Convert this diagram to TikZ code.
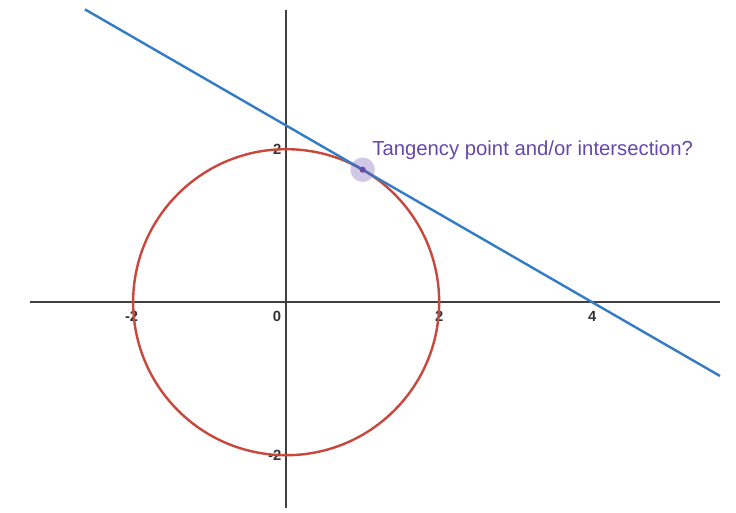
\documentclass[tikz,border=0pt]{standalone}
\usepackage{fontspec}
\setmainfont{Liberation Sans}
\definecolor{lineblue}{RGB}{52,124,196}
\definecolor{circred}{RGB}{200,72,62}
\definecolor{ptpurple}{RGB}{102,72,170}

\begin{document}
\begin{tikzpicture}[x=1cm,y=1cm,font=\small,
  axisline/.style={draw=black!75,line width=0.75pt},
  ticklabel/.style={font=\fontsize{5.5}{6}\selectfont\bfseries,text=black!80,inner sep=1pt},
  curveline/.style={line width=0.9pt}]
\useasboundingbox (-3.74,-2.745) rectangle (5.88,3.95);
\coordinate (xaxis-start) at (-3.35,0);
\coordinate (xaxis-end) at (5.67,0);
\coordinate (yaxis-start) at (0,-2.69);
\coordinate (yaxis-end) at (0,3.82);
\path[axisline] (xaxis-start) -- (xaxis-end);
\path[axisline] (yaxis-start) -- (yaxis-end);
\node[ticklabel,anchor=north] (tick-x-m2) at (-2.02,-0.08) {-2};
\node[ticklabel,anchor=north] (tick-x-0) at (-0.12,-0.08) {0};
\node[ticklabel,anchor=north] (tick-x-2) at (2.0,-0.08) {2};
\node[ticklabel,anchor=north] (tick-x-4) at (4.0,-0.08) {4};
\node[ticklabel,anchor=east] (tick-y-2) at (-0.02,2.0) {2};
\node[ticklabel,anchor=east] (tick-y-m2) at (-0.02,-2.0) {-2};
\draw[curveline,circred] (0,0) circle (2);
\coordinate (tangent-start) at (-2.63,{(4+2.63)/sqrt(3)});
\coordinate (tangent-end) at (5.67,{(4-5.67)/sqrt(3)});
\draw[curveline,lineblue] (tangent-start) -- (tangent-end);
\coordinate (touch-point) at (1,{sqrt(3)});
\fill[ptpurple,opacity=0.3] (touch-point) circle (0.16);
\fill[ptpurple] (touch-point) circle (0.04);
\node[anchor=west,text=ptpurple,font=\fontsize{7.55}{8}\selectfont,inner sep=0pt] (touch-label) at (1.12,1.98) {Tangency point and/or intersection?};
\end{tikzpicture}
\end{document}
